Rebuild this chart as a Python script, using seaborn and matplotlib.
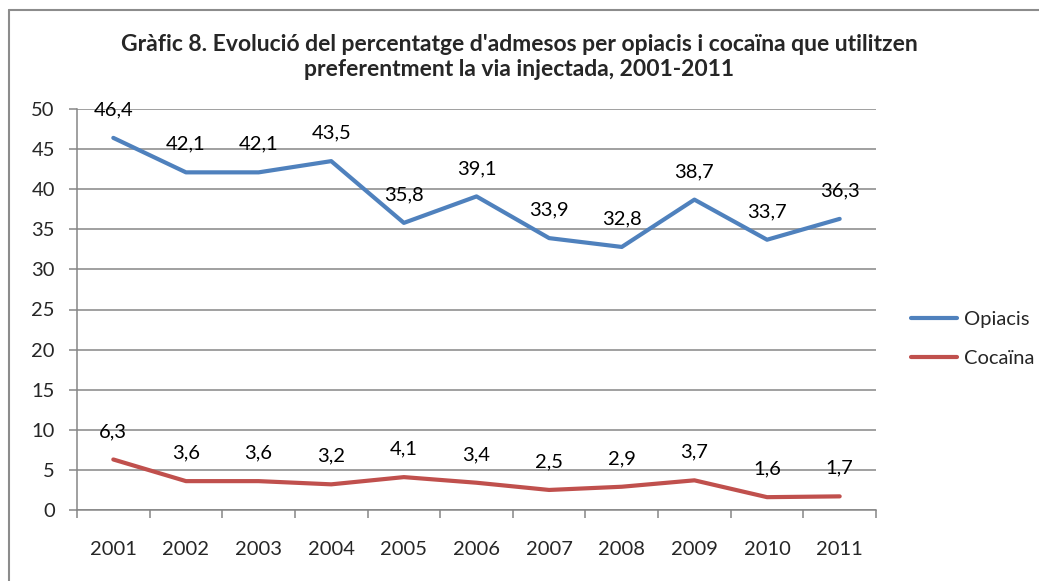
import matplotlib
matplotlib.use("Agg")
import matplotlib.pyplot as plt
import pandas as pd
import seaborn as sns
from matplotlib.ticker import FixedLocator

# Data
years = ["2001", "2002", "2003", "2004", "2005", "2006", "2007", "2008", "2009", "2010", "2011"]
opiacis = [46.4, 42.1, 42.1, 43.5, 35.8, 39.1, 33.9, 32.8, 38.7, 33.7, 36.3]
cocaina = [6.3, 3.6, 3.6, 3.2, 4.1, 3.4, 2.5, 2.9, 3.7, 1.6, 1.7]
series = ["Opiacis", "Cocaïna"]
colors = ["#4F81BD", "#C0504D"]
title = "Gràfic 8. Evolució del percentatge d'admesos per opiacis i cocaïna que utilitzen\npreferentment la via injectada, 2001-2011"

df = pd.DataFrame({
    "pos": list(range(len(years))) * 2,
    "valor": opiacis + cocaina,
    "serie": [series[0]] * len(years) + [series[1]] * len(years),
})

sns.set_style("white")
plt.rcParams['font.family'] = ['Lato', 'DejaVu Sans']

fig = plt.figure(figsize=(10.39, 5.81), dpi=100)
ax = fig.add_axes([77 / 1039, 71 / 581, 799 / 1039, 401 / 581])

sns.lineplot(data=df, x="pos", y="valor", hue="serie", palette=colors,
             linewidth=3, ax=ax, legend=True, solid_capstyle="round")

# data labels above each point
for vals in [opiacis, cocaina]:
    for i, v in enumerate(vals):
        ax.annotate(f"{v:.1f}".replace(".", ","), (i, v), xytext=(0, 28),
                    textcoords="offset pixels", ha="center", va="center",
                    fontsize=14.5, color="black")

ax.set_xlim(-0.5, len(years) - 0.5)
ax.set_ylim(0, 50)
ax.set_yticks(range(0, 51, 5))
ax.yaxis.grid(True, color="#868686", linewidth=1.1)
ax.set_axisbelow(True)

ax.xaxis.set_major_locator(FixedLocator([i - 0.5 for i in range(len(years) + 1)]))
ax.xaxis.set_minor_locator(FixedLocator(list(range(len(years)))))
ax.set_xticklabels([], minor=False)
ax.set_xticklabels(years, minor=True)
ax.tick_params(axis="x", which="major", length=6, width=1.1, color="#868686", direction="out", bottom=True)
ax.tick_params(axis="x", which="minor", length=0, pad=22, labelsize=14.5)
ax.tick_params(axis="y", length=6, width=1.1, color="#868686", direction="out", left=True, labelsize=14.5, pad=10)
ax.set_xlabel("")
ax.set_ylabel("")

for s in ["top", "right"]:
    ax.spines[s].set_visible(False)
for s in ["left", "bottom"]:
    ax.spines[s].set_color("#868686")
    ax.spines[s].set_linewidth(1.1)

handles, labels = ax.get_legend_handles_labels()
ax.legend(handles, labels, loc="center left", bbox_to_anchor=(893 / 1039, 242 / 581),
          bbox_transform=fig.transFigure, frameon=False, fontsize=14.5,
          handlelength=2.3, labelspacing=1.1, handletextpad=0.35)

fig.text(0.5, 1 - 57 / 581, title, ha="center", va="center", fontsize=16.5,
         fontweight="bold", linespacing=1.2)

# chart border (top and left, as in the source)
fig.add_artist(plt.Line2D([9 / 1039, 1], [1 - 10 / 581] * 2, transform=fig.transFigure,
                          color="#8C8C8C", linewidth=1.5))
fig.add_artist(plt.Line2D([9 / 1039] * 2, [0, 1 - 10 / 581], transform=fig.transFigure,
                          color="#8C8C8C", linewidth=1.5))

fig.savefig("out.png", dpi=100)
